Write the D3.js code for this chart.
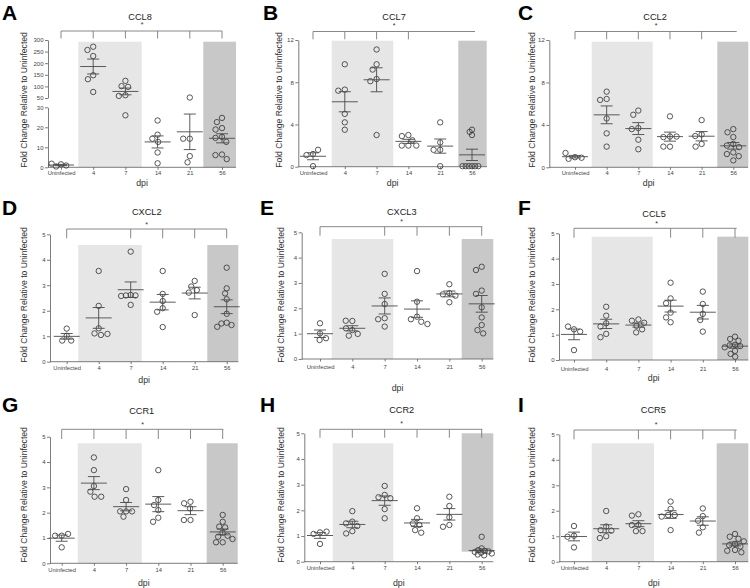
<!DOCTYPE html>
<html><head><meta charset="utf-8">
<script src="https://cdn.jsdelivr.net/npm/d3@7/dist/d3.min.js"></script>
<style>body{margin:0;background:#fff}svg{display:block}text{font-family:"Liberation Sans",Arial,sans-serif}</style>
</head><body><svg id="c" width="750" height="588"></svg>
<script>
// ---------- data ----------
const categories = ["Uninfected", "4", "7", "14", "21", "56"];
const titles = ["CCL8", "CCL7", "CCL2", "CXCL2", "CXCL3", "CCL5", "CCR1", "CCR2", "CCR5"];
const letters = ["A", "B", "C", "D", "E", "F", "G", "H", "I"];
const yTicksLow = [0, 10, 20, 30];
const yTicksHigh = [50, 100, 150, 200, 250, 300];
const yTicks12 = [0, 4, 8, 12];
const yTicks5 = [0, 1, 2, 3, 4, 5];

const ccl8 = [[1.5, 0.4, 0.9, 1.8], [271, 257, 231, 148, 131, 76], [124, 101, 98, 62, 59, 26],
  [23.4, 16.3, 14.3, 12.7, 7.4, 2.0], [52, 14.3, 14.3, 5.6, 2.5],
  [24.7, 22.6, 19.6, 18.9, 15.2, 14.7, 12.7, 6.4, 6.1, 4.1]];
const ccl7 = [[1.2, 1.1, 1.6, 0.05], [9.7, 7.3, 7.2, 5.0, 4.2, 3.5], [11.1, 9.7, 9.2, 8.3, 8.1, 3.0],
  [3.0, 2.9, 2.5, 2.0, 2.0, 2.0], [4.2, 2.3, 1.6, 1.6, 0.05],
  [3.5, 3.3, 3.0, 0.05, 0.05, 0.05, 0.05, 0.05, 0.05]];
const ccl2 = [[0.95, 0.8, 0.9, 1.35], [7.13, 6.44, 6.35, 4.6, 3.2, 1.95], [5.35, 4.95, 3.7, 3.6, 2.6, 1.7],
  [4.8, 2.9, 2.85, 2.9, 1.95, 1.95], [4.45, 3.1, 2.95, 2.2, 1.95],
  [3.6, 3.3, 2.85, 2.2, 2.05, 1.9, 1.4, 1.25, 1.05, 0.65]];
const cxcl2 = [[1.3, 1.02, 0.83, 0.83], [3.56, 2.19, 1.31, 1.11, 1.05, 1.09], [4.32, 2.62, 2.6, 2.6, 2.58, 2.23],
  [3.56, 2.66, 2.38, 2.1, 1.96, 1.36], [3.17, 2.95, 2.81, 2.71, 1.83],
  [3.69, 2.88, 2.68, 2.45, 1.88, 1.53, 1.5, 1.44, 1.37]];
const cxcl3 = [[1.41, 1.01, 0.75, 0.82], [1.5, 1.51, 1.14, 1.21, 0.92, 0.99], [3.36, 2.57, 2.17, 1.61, 1.57, 1.28],
  [3.47, 2.26, 1.67, 1.57, 1.47, 1.38], [2.95, 2.6, 2.55, 2.5, 2.24],
  [3.64, 3.51, 2.7, 2.57, 2.04, 1.64, 1.34, 1.14, 1.01]];
const ccl5 = [[1.21, 1.32, 1.12, 0.39], [2.1, 1.75, 1.45, 1.32, 1.03, 0.9], [1.6, 1.55, 1.47, 1.35, 1.21, 1.09],
  [3.05, 2.43, 2.24, 1.87, 1.68, 1.49], [2.7, 2.21, 1.82, 1.58, 1.12],
  [0.92, 0.83, 0.76, 0.6, 0.58, 0.55, 0.5, 0.36, 0.24, 0.13]];
const ccr1 = [[1.09, 1.09, 1.16, 0.63], [4.18, 3.68, 3.05, 2.83, 2.63, 2.63], [2.93, 2.5, 2.05, 2.05, 2.05, 1.84],
  [3.68, 2.5, 2.3, 2.1, 1.8, 1.64], [2.43, 2.37, 2.17, 1.71, 1.71],
  [1.91, 1.64, 1.45, 1.42, 1.21, 1.09, 1.05, 0.96, 0.83, 0.83]];
const ccr2 = [[1.14, 1.08, 1.17, 0.69], [1.97, 1.56, 1.49, 1.39, 1.19, 1.1], [2.95, 2.6, 2.51, 2.47, 2.05, 1.69],
  [2.08, 1.69, 1.49, 1.43, 1.23, 1.13], [2.53, 2.17, 1.73, 1.43, 1.36],
  [0.97, 0.52, 0.45, 0.42, 0.4, 0.38, 0.35, 0.32, 0.28, 0.25]];
const ccr5 = [[1.4, 1.02, 0.98, 0.56], [1.99, 1.38, 1.24, 1.22, 1.0, 0.93], [1.86, 1.81, 1.44, 1.44, 1.2, 1.2],
  [2.36, 2.07, 1.83, 1.83, 1.77, 1.24], [2.09, 1.79, 1.61, 1.35, 1.14],
  [1.09, 0.98, 0.9, 0.8, 0.7, 0.65, 0.6, 0.46, 0.43, 0.37]];

const brAll = ["Uninfected", "4", "7", "14", "21", "56"];
const brB = ["Uninfected", "4", "7", "14"];
const brC = ["Uninfected", "4", "7", "14", "21"];
const brDEI = ["Uninfected", "7", "14", "21", "56"];
const brF = ["Uninfected", "14", "21", "56"];

const panelData = [ccl8, ccl7, ccl2, cxcl2, cxcl3, ccl5, ccr1, ccr2, ccr5];
const panelBrackets = [brAll, brB, brC, brDEI, brDEI, brF, brAll, brAll, brDEI];

// ---------- layout ----------
const L = [
  {lx:2, ly:20, ax:48, axR:236, y0:167.3, yTop:40, c0:61, c1:222, light:[78.3,141.7], lightTop:41.7, dark:[203.3,236], darkTop:41.7,
   brY:31, brB:38.5, brEnd:222, star:[142,27], title:[140,20], xlabY:175.5, dpiY:185.5, ylabX:25, ylabY:100, broken:true},
  {lx:263, ly:20, ax:298.3, axR:487, y0:166.7, yTop:40, c0:313, c1:472, light:[331.7,393.3], lightTop:40.7, dark:[458.3,486.7], darkTop:40.7,
   brY:31.5, brB:39.3, brEnd:475, star:[394,28], title:[394,20], xlabY:175, dpiY:185.5, ylabX:280, ylabY:100, ticks:yTicks12, max:12},
  {lx:518, ly:20, ax:549.3, axR:748, y0:167.3, yTop:40, c0:575, c1:733.3, light:[591.7,652.7], lightTop:41.7, dark:[717.3,748.3], darkTop:41.7,
   brY:31.5, brB:39.3, brEnd:736.7, star:[656,28], title:[655,20], xlabY:175.5, dpiY:185.5, ylabX:533, ylabY:100, ticks:yTicks12, max:12},
  {lx:2, ly:215, ax:50, axR:238.3, y0:361.7, yTop:234.3, c0:66.7, c1:226.7, light:[78.3,141.7], lightTop:245, dark:[207.3,238.3], darkTop:245,
   brY:229, brB:238.3, brEnd:226.7, star:[146.7,226.5], title:[146.7,215], xlabY:370.5, dpiY:383, ylabX:25, ylabY:295, ticks:yTicks5, max:5},
  {lx:260, ly:215, ax:301.7, axR:493.3, y0:359, yTop:232.3, c0:320, c1:481.7, light:[331.7,393.3], lightTop:239, dark:[461.7,493.3], darkTop:239,
   brY:226.7, brB:235.7, brEnd:482.3, star:[401.7,224], title:[401.7,215], xlabY:369, dpiY:391, ylabX:281.7, ylabY:295, ticks:yTicks5, max:5},
  {lx:518, ly:215, ax:559, axR:748.3, y0:360, yTop:233.3, c0:574, c1:735, light:[591.7,652.7], lightTop:236.7, dark:[717.3,748.3], darkTop:236.7,
   brY:228.3, brB:237.7, brEnd:736.7, star:[656.7,225.5], title:[654,216.5], xlabY:370.5, dpiY:381, ylabX:533, ylabY:295, ticks:yTicks5, max:5},
  {lx:2, ly:412, ax:50, axR:237.7, y0:563.3, yTop:436.7, c0:61.7, c1:222.7, light:[77.7,141.7], lightTop:443.3, dark:[206.7,237.7], darkTop:443.3,
   brY:429.3, brB:439, brEnd:223.3, star:[142.7,426.5], title:[141.7,414], xlabY:572, dpiY:586, ylabX:25, ylabY:495, ticks:yTicks5, max:5},
  {lx:260, ly:412, ax:304.3, axR:493.3, y0:561.7, yTop:433.3, c0:320, c1:481.7, light:[332.7,393.3], lightTop:443.3, dark:[461.7,493.3], darkTop:433.3, darkBottom:551.7,
   brY:429.3, brB:437.7, brEnd:482.3, star:[401.7,425.5], title:[401.7,413.3], xlabY:570.5, dpiY:586, ylabX:281.7, ylabY:495, ticks:yTicks5, max:5},
  {lx:518, ly:412, ax:559.3, axR:748.3, y0:561.7, yTop:434.3, c0:574, c1:735, light:[591.7,654], lightTop:443.3, dark:[716.7,748.3], darkTop:443.3,
   brY:430, brB:439.3, brEnd:736.7, star:[656,427], title:[653.3,413.3], xlabY:570.5, dpiY:586, ylabX:533, ylabY:495, ticks:yTicks5, max:5}
];

const svg = d3.select("#c");
const AX = "#5a5a5a", DOT = "#3a3a3a", BAR = "#4a4a4a", BR = "#7a7a7a";
const fmt = d3.format("d");

function swarm(ys, D, maxW) {
  let d = D, xs = [];
  for (let it = 0; it < 25; it++) {
    const placed = []; xs = [];
    ys.forEach(yv => {
      const cands = [0];
      placed.forEach(p => {
        const dy = Math.abs(p.y - yv);
        if (dy < d) { const dx = Math.sqrt(d * d - dy * dy); cands.push(p.x + dx, p.x - dx); }
      });
      cands.sort((a, b) => Math.abs(a) - Math.abs(b) || a - b);
      const ch = cands.find(c => placed.every(p => (p.x - c) ** 2 + (p.y - yv) ** 2 >= d * d - 1e-6));
      placed.push({x: ch, y: yv}); xs.push(ch);
    });
    if (d3.max(xs, Math.abs) <= maxW) return xs;
    d *= 0.9;
  }
  return xs;
}

L.forEach((c, i) => {
  const data = panelData[i];
  const g = svg.append("g");
  const x = d3.scalePoint().domain(categories).range([c.c0, c.c1]);
  let y, yLow, yHigh;
  if (c.broken) {
    const y30 = 107.3, y50 = 98;
    y = d3.scaleLinear().domain([0, 30, 50, 300]).range([c.y0, y30, y50, c.yTop]);
    yLow = d3.scaleLinear().domain([0, 30]).range([c.y0, y30]);
    yHigh = d3.scaleLinear().domain([50, 300]).range([y50, c.yTop]);
  } else {
    y = d3.scaleLinear().domain([0, c.max]).range([c.y0, c.yTop]);
  }
  // bands
  g.append("rect").attr("x", c.light[0]).attr("y", c.lightTop).attr("width", c.light[1] - c.light[0])
    .attr("height", c.y0 - c.lightTop).attr("fill", "#e6e6e6");
  g.append("rect").attr("x", c.dark[0]).attr("y", c.darkTop).attr("width", c.dark[1] - c.dark[0])
    .attr("height", (c.darkBottom || c.y0) - c.darkTop).attr("fill", "#c8c8c8");

  // y axis
  const styleAxis = (sel) => {
    sel.selectAll("path,line").attr("stroke", AX).attr("stroke-width", 0.8);
    sel.selectAll("text").attr("font-size", "6px").attr("fill", "#444").attr("font-family", '"Liberation Sans",Arial,sans-serif');
  };
  if (c.broken) {
    g.append("g").attr("transform", `translate(${c.ax},0)`)
      .call(d3.axisLeft(yLow).tickValues(yTicksLow).tickFormat(fmt).tickSize(3).tickSizeOuter(0).tickPadding(1.5)).call(styleAxis);
    g.append("g").attr("transform", `translate(${c.ax},0)`)
      .call(d3.axisLeft(yHigh).tickValues(yTicksHigh).tickFormat(fmt).tickSize(3).tickSizeOuter(0).tickPadding(1.5)).call(styleAxis);
  } else {
    g.append("g").attr("transform", `translate(${c.ax},0)`)
      .call(d3.axisLeft(y).tickValues(c.ticks).tickFormat(fmt).tickSize(3).tickSizeOuter(0).tickPadding(1.5)).call(styleAxis);
  }
  // x axis
  g.append("line").attr("x1", c.ax).attr("x2", c.axR).attr("y1", c.y0).attr("y2", c.y0)
    .attr("stroke", AX).attr("stroke-width", 0.8);
  const xa = g.append("g").attr("transform", `translate(0,${c.y0})`)
    .call(d3.axisBottom(x).tickSize(2.5).tickSizeOuter(0));
  xa.select(".domain").remove();
  xa.call(styleAxis);
  xa.selectAll("text").attr("font-size", "5.8px").attr("y", c.xlabY - c.y0).attr("dy", 0);

  // y label
  g.append("text").attr("transform", `translate(${c.ylabX},${c.ylabY}) rotate(-90)`)
    .attr("text-anchor", "middle").attr("dominant-baseline", "middle")
    .attr("font-size", "8.6px").attr("fill", "#333").text("Fold Change Relative to Uninfected");
  // x label
  g.append("text").attr("x", (c.ax + c.axR) / 2).attr("y", c.dpiY).attr("text-anchor", "middle")
    .attr("font-size", "8.8px").attr("fill", "#333").text("dpi");
  // title
  g.append("text").attr("x", c.title[0]).attr("y", c.title[1]).attr("text-anchor", "middle")
    .attr("font-size", "9.2px").attr("fill", "#222").text(titles[i]);
  // letter
  g.append("text").attr("x", c.lx).attr("y", c.ly).attr("font-size", "21px").attr("font-weight", "bold")
    .attr("fill", "#000").text(letters[i]);
  // bracket
  const br = panelBrackets[i];
  g.append("line").attr("x1", x(br[0])).attr("x2", c.brEnd).attr("y1", c.brY).attr("y2", c.brY)
    .attr("stroke", BR).attr("stroke-width", 0.9);
  g.selectAll(null).data(br).join("line")
    .attr("x1", d => x(d)).attr("x2", d => x(d)).attr("y1", c.brY).attr("y2", c.brB)
    .attr("stroke", BR).attr("stroke-width", 0.9);
  g.append("text").attr("x", c.star[0]).attr("y", c.star[1]).attr("text-anchor", "middle")
    .attr("font-size", "7px").attr("fill", "#333").text("*");

  // groups
  categories.forEach((cat, k) => {
    const vals = data[k];
    const cx = x(cat);
    const ys = vals.map(v => y(v));
    const offs = swarm(ys, 6.6, 10.5);
    const m = d3.mean(vals);
    const sem = d3.deviation(vals) / Math.sqrt(vals.length);
    g.selectAll(null).data(vals).join("circle")
      .attr("cx", (d, j) => cx + offs[j]).attr("cy", d => y(d)).attr("r", 2.7)
      .attr("fill", "none").attr("stroke", DOT).attr("stroke-width", 0.85);
    const eb = g.append("g").attr("stroke", BAR).attr("stroke-width", 0.9);
    eb.append("line").attr("x1", cx - 13).attr("x2", cx + 13).attr("y1", y(m)).attr("y2", y(m));
    eb.append("line").attr("x1", cx).attr("x2", cx).attr("y1", y(m - sem)).attr("y2", y(m + sem));
    eb.append("line").attr("x1", cx - 6).attr("x2", cx + 6).attr("y1", y(m - sem)).attr("y2", y(m - sem));
    eb.append("line").attr("x1", cx - 6).attr("x2", cx + 6).attr("y1", y(m + sem)).attr("y2", y(m + sem));
  });
});
</script></body></html>
